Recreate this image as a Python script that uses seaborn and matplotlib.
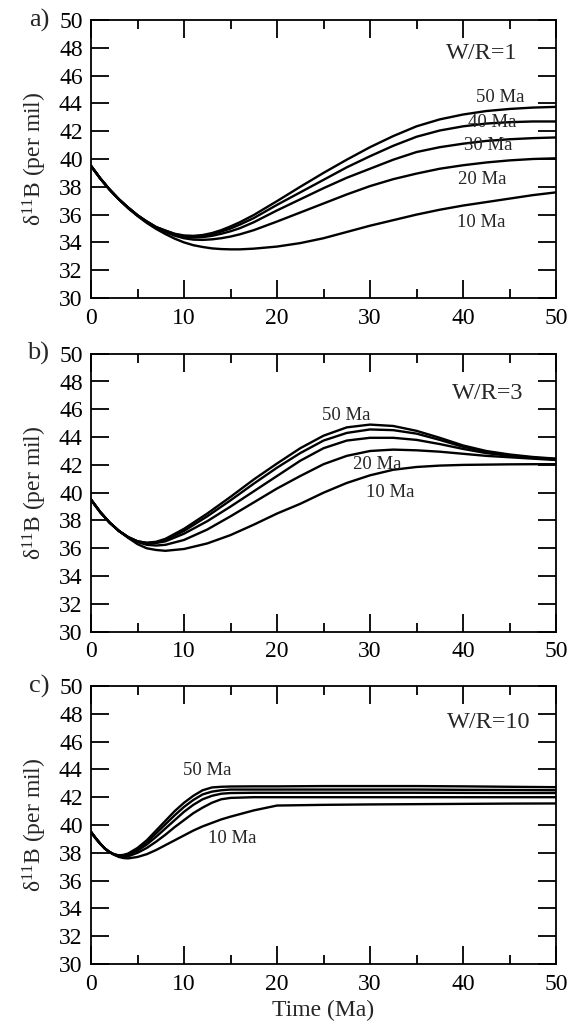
import numpy as np
import pandas as pd
import matplotlib
matplotlib.use("Agg")
import matplotlib.pyplot as plt
from matplotlib.ticker import MultipleLocator
import seaborn as sns

# ---------------- data ----------------
ages = ["10 Ma", "20 Ma", "30 Ma", "40 Ma", "50 Ma"]

xa = [0, 1, 2, 3, 4, 5, 6, 7, 8, 9, 10, 11, 12, 13, 14, 15, 16, 17.5, 20, 22.5, 25, 27.5, 30, 32.5, 35, 37.5, 40, 42.5, 45, 47.5, 50]
a10 = [39.5, 38.6, 37.8, 37.1, 36.45, 35.9, 35.4, 34.97, 34.6, 34.27, 34.0, 33.8, 33.67, 33.57, 33.52, 33.5, 33.5, 33.55, 33.7, 33.95, 34.3, 34.75, 35.2, 35.6, 36.0, 36.35, 36.65, 36.9, 37.15, 37.4, 37.6]
a20 = [39.5, 38.6, 37.8, 37.1, 36.5, 35.95, 35.45, 35.05, 34.75, 34.48, 34.3, 34.2, 34.18, 34.22, 34.3, 34.42, 34.58, 34.88, 35.5, 36.15, 36.8, 37.45, 38.05, 38.55, 38.95, 39.3, 39.55, 39.75, 39.9, 40.0, 40.05]
a30 = [39.5, 38.6, 37.8, 37.1, 36.5, 35.95, 35.5, 35.1, 34.8, 34.55, 34.4, 34.35, 34.38, 34.47, 34.62, 34.8, 35.02, 35.45, 36.3, 37.1, 37.9, 38.65, 39.3, 39.95, 40.5, 40.85, 41.1, 41.3, 41.42, 41.5, 41.55]
a40 = [39.5, 38.6, 37.8, 37.1, 36.5, 35.95, 35.5, 35.1, 34.85, 34.6, 34.45, 34.42, 34.47, 34.6, 34.78, 35.0, 35.28, 35.75, 36.7, 37.6, 38.5, 39.4, 40.2, 40.95, 41.6, 42.05, 42.35, 42.55, 42.65, 42.7, 42.7]
a50 = [39.5, 38.6, 37.8, 37.1, 36.5, 35.95, 35.5, 35.1, 34.85, 34.62, 34.5, 34.47, 34.53, 34.67, 34.88, 35.15, 35.45, 35.97, 36.97, 38.0, 39.0, 39.95, 40.85, 41.65, 42.35, 42.85, 43.2, 43.45, 43.6, 43.7, 43.75]

xb = [0, 1, 2, 3, 4, 5, 6, 7, 8, 10, 12.5, 15, 17.5, 20, 22.5, 25, 27.5, 30, 32.5, 35, 37.5, 40, 42.5, 45, 47.5, 50]
b10 = [39.5, 38.6, 37.85, 37.25, 36.75, 36.3, 36.0, 35.88, 35.82, 35.95, 36.35, 36.95, 37.7, 38.5, 39.2, 40.0, 40.7, 41.25, 41.65, 41.85, 41.95, 42.0, 42.02, 42.04, 42.05, 42.05]
b20 = [39.5, 38.6, 37.85, 37.25, 36.8, 36.45, 36.25, 36.2, 36.25, 36.6, 37.35, 38.3, 39.3, 40.3, 41.2, 42.05, 42.65, 43.0, 43.1, 43.05, 42.95, 42.8, 42.65, 42.55, 42.45, 42.35]
b30 = [39.5, 38.6, 37.85, 37.25, 36.8, 36.5, 36.35, 36.38, 36.5, 37.05, 37.95, 39.0, 40.1, 41.2, 42.3, 43.2, 43.75, 43.95, 43.95, 43.8, 43.5, 43.15, 42.85, 42.65, 42.5, 42.4]
b40 = [39.5, 38.6, 37.85, 37.25, 36.8, 36.5, 36.38, 36.42, 36.6, 37.25, 38.3, 39.45, 40.65, 41.8, 42.85, 43.75, 44.3, 44.55, 44.5, 44.25, 43.8, 43.3, 42.95, 42.7, 42.52, 42.42]
b50 = [39.5, 38.6, 37.85, 37.25, 36.8, 36.5, 36.4, 36.47, 36.68, 37.4, 38.5, 39.7, 40.95, 42.1, 43.2, 44.1, 44.7, 44.9, 44.8, 44.45, 43.95, 43.4, 43.0, 42.75, 42.57, 42.45]

xc = [0, 0.5, 1, 1.5, 2, 2.5, 3, 3.5, 4, 5, 6, 7, 8, 9, 10, 11, 12, 13, 14, 15, 17.5, 20, 25, 30, 35, 40, 45, 50]
c10 = [39.5, 39.05, 38.65, 38.3, 38.05, 37.85, 37.7, 37.62, 37.6, 37.7, 37.9, 38.2, 38.55, 38.9, 39.25, 39.6, 39.9, 40.15, 40.4, 40.6, 41.05, 41.4, 41.45, 41.48, 41.5, 41.52, 41.54, 41.55]
c20 = [39.5, 39.05, 38.65, 38.3, 38.05, 37.87, 37.75, 37.72, 37.75, 38.0, 38.35, 38.8, 39.3, 39.85, 40.35, 40.85, 41.25, 41.6, 41.85, 41.95, 42.0, 42.0, 42.0, 42.0, 42.0, 42.0, 42.0, 42.0]
c30 = [39.5, 39.05, 38.65, 38.3, 38.05, 37.88, 37.8, 37.8, 37.85, 38.15, 38.6, 39.15, 39.75, 40.35, 40.95, 41.45, 41.85, 42.1, 42.25, 42.3, 42.32, 42.32, 42.32, 42.32, 42.32, 42.31, 42.3, 42.3]
c40 = [39.5, 39.05, 38.65, 38.3, 38.05, 37.88, 37.8, 37.82, 37.9, 38.25, 38.75, 39.4, 40.05, 40.7, 41.3, 41.8, 42.2, 42.4, 42.5, 42.55, 42.55, 42.55, 42.55, 42.55, 42.55, 42.53, 42.52, 42.5]
c50 = [39.5, 39.05, 38.65, 38.3, 38.05, 37.88, 37.82, 37.85, 37.95, 38.35, 38.9, 39.6, 40.3, 41.0, 41.6, 42.1, 42.5, 42.7, 42.75, 42.77, 42.78, 42.78, 42.8, 42.8, 42.8, 42.78, 42.75, 42.72]

panel_letters = ["a)", "b)", "c)"]
wr_labels = ["W/R=1", "W/R=3", "W/R=10"]
xticks = [0, 10, 20, 30, 40, 50]
yticks = [30, 32, 34, 36, 38, 40, 42, 44, 46, 48, 50]

# age annotations: (text, x, y) in data coordinates
ann_a = [("50 Ma", 44.0, 44.45), ("40 Ma", 43.1, 42.63), ("30 Ma", 42.7, 41.0),
         ("20 Ma", 42.05, 38.5), ("10 Ma", 42.0, 35.43)]
ann_b = [("50 Ma", 27.5, 45.53), ("20 Ma", 30.8, 42.04), ("10 Ma", 32.15, 39.99)]
ann_c = [("50 Ma", 12.55, 43.94), ("10 Ma", 15.2, 39.0)]
wr_pos = [(38.2, 47.6), (38.8, 47.12), (38.3, 47.35)]

# ---------------- style ----------------
sns.set_style("ticks")
plt.rcParams["font.family"] = ["Liberation Serif", "DejaVu Serif"]
plt.rcParams["mathtext.fontset"] = "custom"
plt.rcParams["mathtext.rm"] = "Liberation Serif"
plt.rcParams["mathtext.it"] = "Liberation Serif:italic"
plt.rcParams["axes.linewidth"] = 1.3

fig = plt.figure(figsize=(5.82, 10.22), dpi=100)
left, width, height = 91 / 582, 465 / 582, 278 / 1022
bottoms = [1 - 298 / 1022, 1 - 631.7 / 1022, 1 - 964 / 1022]

panels = [
    (xa, [a10, a20, a30, a40, a50], ann_a),
    (xb, [b10, b20, b30, b40, b50], ann_b),
    (xc, [c10, c20, c30, c40, c50], ann_c),
]

for i, (xs, series, anns) in enumerate(panels):
    ax = fig.add_axes([left, bottoms[i], width, height])
    rows = []
    for age, ys in zip(ages, series):
        for xv, yv in zip(xs, ys):
            rows.append({"t": xv, "d": yv, "age": age})
    df = pd.DataFrame(rows)
    sns.lineplot(data=df, x="t", y="d", hue="age", palette=["black"] * 5,
                 estimator=None, sort=False, linewidth=1.7, legend=False, ax=ax)
    ax.set_xlim(0, 50)
    ax.set_ylim(30, 50)
    ax.set_xticks(xticks)
    ax.set_yticks(yticks)
    ax.xaxis.set_minor_locator(MultipleLocator(5))
    ax.tick_params(which="both", direction="in", top=True, right=True,
                   width=1.3, labelsize=17, colors="black")
    ax.tick_params(which="major", length=13)
    ax.tick_params(which="minor", length=6.5)
    ax.tick_params(axis="x", pad=7)
    ax.tick_params(axis="y", pad=6)
    for sp in ax.spines.values():
        sp.set_visible(True)
        sp.set_color("black")
    ax.set_ylabel("δ$^{11}$B (per mil)", fontsize=17)
    ax.yaxis.set_label_coords(-0.09, 0.5)
    if i == 2:
        ax.set_xlabel("Time (Ma)", fontsize=17, labelpad=4)
    else:
        ax.set_xlabel("")
    ax.text(-0.09, 1.0, panel_letters[i], transform=ax.transAxes,
            ha="right", va="center", fontsize=19)
    ax.text(wr_pos[i][0], wr_pos[i][1], wr_labels[i], ha="left", va="center",
            fontsize=17.5)
    for txt, tx, ty in anns:
        ax.text(tx, ty, txt, ha="center", va="center", fontsize=13.5)

fig.savefig("out.png", dpi=100)
